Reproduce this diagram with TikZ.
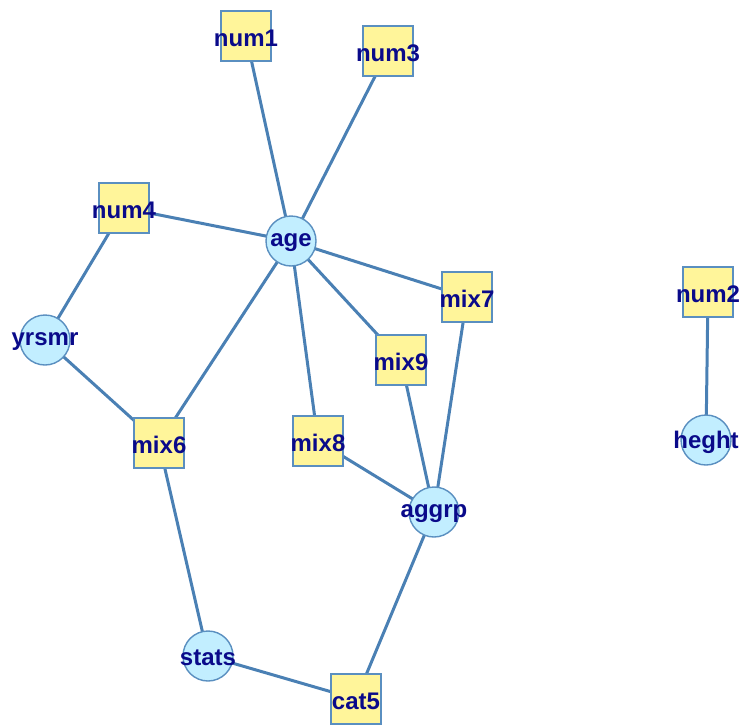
\documentclass[tikz,border=0pt]{standalone}
\usepackage{fontspec}
\setmainfont{Liberation Sans}
\usetikzlibrary{backgrounds}
\definecolor{edgec}{HTML}{4A80B4}
\definecolor{bordc}{HTML}{5A8FC0}
\definecolor{sqfill}{HTML}{FFF59A}
\definecolor{cifill}{HTML}{C2EEFF}
\definecolor{txtc}{HTML}{0A0A8A}
\tikzset{
  lbl/.style={font=\fontsize{24}{26}\selectfont\bfseries, text=txtc, inner sep=0pt, yshift=-2pt},
  sq/.style={draw=bordc, line width=1.4pt, fill=sqfill, rectangle, minimum size=50pt, inner sep=0pt},
  ci/.style={draw=bordc, line width=1.4pt, fill=cifill, circle, minimum size=50pt, inner sep=0pt},
  edge/.style={draw=edgec, line width=3pt}
}
\begin{document}
\begin{tikzpicture}[x=1pt,y=-1pt]
\useasboundingbox (0,0) rectangle (743,725);
\node[sq, label={[lbl]center:num1}] (num1) at (246,36) {};
\node[sq, label={[lbl]center:num3}] (num3) at (388,51) {};
\node[sq, label={[lbl]center:num4}] (num4) at (124,208) {};
\node[ci, label={[lbl]center:age}] (age) at (291,241) {};
\node[ci, label={[lbl]center:yrsmr}] (yrsmr) at (45,340) {};
\node[sq, label={[lbl]center:mix7}] (mix7) at (467,297) {};
\node[sq, label={[lbl]center:num2}] (num2) at (708,292) {};
\node[sq, label={[lbl]center:mix9}] (mix9) at (401,360) {};
\node[sq, label={[lbl]center:mix6}] (mix6) at (159,443) {};
\node[sq, label={[lbl]center:mix8}] (mix8) at (318,441) {};
\node[ci, label={[lbl]center:heght}] (heght) at (706,440) {};
\node[ci, label={[lbl]center:aggrp}] (aggrp) at (434,512) {};
\node[ci, label={[lbl]center:stats}] (stats) at (208,656) {};
\node[sq, label={[lbl]center:cat5}] (cat5) at (356,699) {};
\begin{scope}[on background layer]
\draw[edge] (num1.center) -- (age.center);
\draw[edge] (num3.center) -- (age.center);
\draw[edge] (num4.center) -- (age.center);
\draw[edge] (age.center) -- (mix7.center);
\draw[edge] (age.center) -- (mix9.center);
\draw[edge] (age.center) -- (mix8.center);
\draw[edge] (age.center) -- (mix6.center);
\draw[edge] (num4.center) -- (yrsmr.center);
\draw[edge] (yrsmr.center) -- (mix6.center);
\draw[edge] (mix6.center) -- (stats.center);
\draw[edge] (stats.center) -- (cat5.center);
\draw[edge] (cat5.center) -- (aggrp.center);
\draw[edge] (aggrp.center) -- (mix8.center);
\draw[edge] (aggrp.center) -- (mix9.center);
\draw[edge] (aggrp.center) -- (mix7.center);
\draw[edge] (num2.center) -- (heght.center);
\end{scope}
\end{tikzpicture}
\end{document}
